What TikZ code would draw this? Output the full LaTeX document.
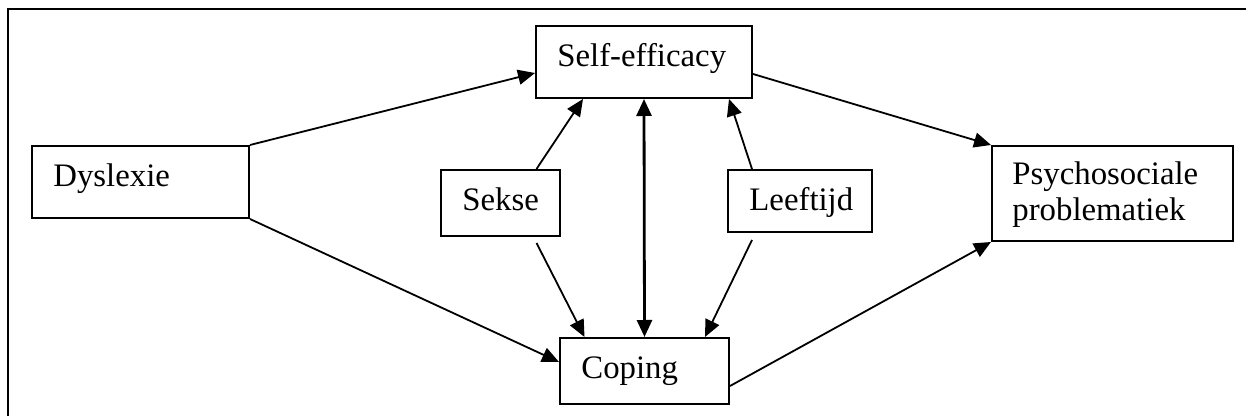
\documentclass[tikz,border=0pt]{standalone}
\usepackage{fontspec}
\setmainfont{Liberation Serif}
\usetikzlibrary{arrows.meta}
\tikzstyle{box}=[rectangle, draw=black, line width=1pt, inner sep=0pt, anchor=center]
\tikzstyle{annot}=[inner sep=0pt, font=\fontsize{16.4}{18}\selectfont]
\tikzstyle{conn}=[line width=0.9pt, -{Triangle[length=8.5pt,width=7.5pt]}]

\begin{document}
\begin{tikzpicture}[x=0.5pt, y=-0.5pt]
	\useasboundingbox (0,0) rectangle (1246,416);
	% frame, cut off at right and bottom
	\draw[line width=1.2pt] (8,416) -- (8,9) -- (1246,9);

	\node[box, minimum width=108.5pt, minimum height=36pt](dyslexie) at (140.5,182){};
	\node[box, minimum width=108pt, minimum height=36pt](selfeff) at (644,62){};
	\node[box, minimum width=84.5pt, minimum height=33pt](coping) at (644.5,371){};
	\node[box, minimum width=59.5pt, minimum height=33pt](sekse) at (500.5,203){};
	\node[box, minimum width=72pt, minimum height=31pt](leeftijd) at (800,201){};
	\node[box, minimum width=120.5pt, minimum height=47.5pt](psycho) at (1112.5,193.5){};

	\node[annot, anchor=base west](dyslexietxt) at (53,187){Dyslexie};
	\node[annot, anchor=base west](selfefftxt) at (557,67){Self-efficacy};
	\node[annot, anchor=base west](copingtxt) at (581,379){Coping};
	\node[annot, anchor=base west](seksetxt) at (462,211){Sekse};
	\node[annot, anchor=base west](leeftijdtxt) at (749,211){Leeftijd};
	\node[annot, anchor=base west](psychotxt1) at (1012,185){Psychosociale};
	\node[annot, anchor=base west](psychotxt2) at (1012,221){problematiek};

	\draw[conn] (dyslexie.north east) -- ([yshift=-5.5pt]selfeff.west);
	\draw[conn] (dyslexie.south east) -- ([yshift=4.5pt]coping.west);
	\draw[conn] ([yshift=-6pt]selfeff.east) -- (psycho.north west);
	\draw[conn] ([yshift=-7.5pt]coping.east) -- (psycho.south west);

	\draw[conn] ([xshift=18pt]sekse.north) -- ([xshift=-30.5pt]selfeff.south);
	\draw[conn] ([xshift=-24pt]leeftijd.north) -- ([xshift=42.5pt]selfeff.south);
	\draw[conn] ([xshift=18pt,yshift=-3pt]sekse.south) -- ([xshift=-30pt]coping.north);
	\draw[conn] ([xshift=-24pt,yshift=-3.5pt]leeftijd.south) -- ([xshift=30.25pt]coping.north);
	%\draw[conn] (selfeff.south) -- (coping.north);
	\draw[conn, line width=1.4pt, {Triangle[length=8.5pt,width=7.5pt]}-{Triangle[length=8.5pt,width=7.5pt]}] (selfeff.south) -- (coping.north);

\end{tikzpicture}
\end{document}
